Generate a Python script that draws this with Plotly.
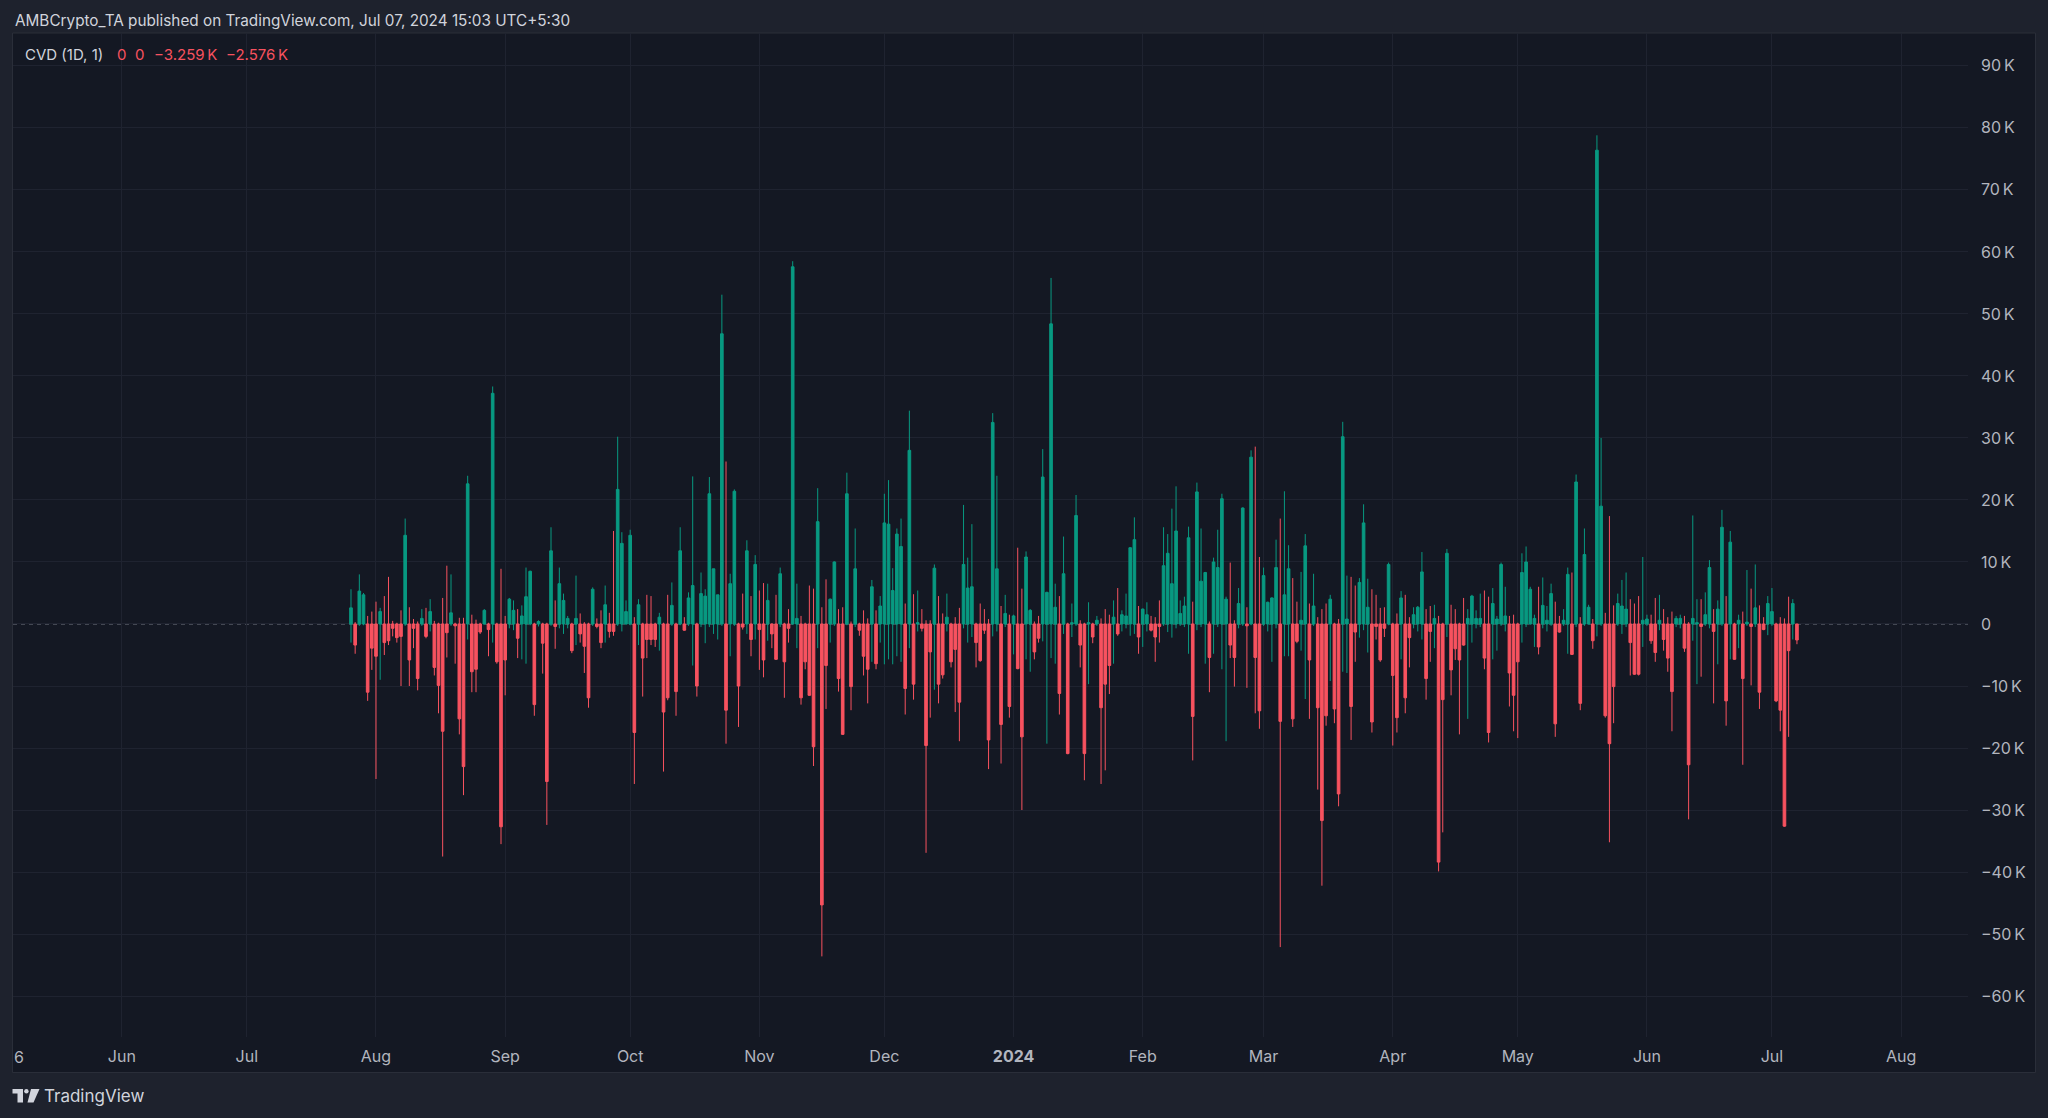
import plotly.graph_objects as go
import pandas as pd

# ---------------- data (values in thousands) ----------------
START_DATE = "2023-07-26"

close_k = [
    2.6, -3.4, 5.3, 4.7, -11.0, -3.9, -5.2, 2.0, -3.0, -2.7,
    -0.7, -2.2, -2.0, 14.3, -5.8, -0.7, -8.8, 0.9, -2.0, 2.0,
    -7.0, -9.9, -17.3, -1.4, 1.8, -0.3, -15.3, -23.0, 22.6, -7.7,
    -7.3, -1.3, 2.2, -0.9, 37.2, -6.1, -32.7, -5.8, 4.0, 2.2,
    -2.3, 1.3, 4.4, 8.5, -13.0, 0.4, -3.1, -25.4, 11.8, -0.4,
    6.5, 3.8, 0.9, -4.3, 0.9, -1.6, -3.6, -11.9, 5.6, -0.4,
    -3.0, 3.1, -1.2, -1.2, 21.7, 13.0, 2.0, 14.3, -17.5, 3.1,
    -5.5, -2.5, -2.5, -2.5, 1.1, -14.2, -11.9, 3.0, -10.9, 11.8,
    -1.0, 4.2, 6.2, -10.0, 4.9, 4.5, 21.0, 8.9, 4.7, 46.8,
    -13.9, 6.5, 21.4, -10.0, -0.5, 11.8, -2.5, 9.6, -0.9, -5.8,
    3.8, -1.6, -5.7, 8.1, -6.1, -0.7, 57.6, 0.9, -11.9, -6.1,
    -11.5, -19.8, 16.5, -45.3, -6.7, 4.0, 10.0, -8.8, -17.8, 21.0,
    -10.1, 8.9, -1.0, -5.2, -7.3, 6.0, -6.4, 2.9, 16.3, 16.1,
    5.4, 14.5, 12.5, -10.4, 28.0, -9.7, 0.2, -0.7, -19.6, -4.5,
    9.0, -9.7, -8.2, 1.1, -6.1, -4.1, -12.6, 9.6, 5.8, 6.0,
    -3.0, -5.9, -1.0, -18.7, 32.5, 8.9, -16.2, 1.7, -13.3, 1.3,
    -7.2, -18.2, 10.8, 2.2, -4.5, -2.3, 23.7, 5.1, 48.4, 2.7,
    -11.2, 8.1, -20.9, 0.2, 17.5, -3.4, -20.9, 0.2, -2.1, 0.6,
    -13.5, -9.7, -6.7, 1.1, -1.6, 1.5, 1.3, 12.3, 13.6, -2.1,
    2.4, 1.5, -1.0, -2.1, -0.4, 9.4, 11.4, 6.5, 15.0, 1.7,
    2.9, 13.9, -14.9, 21.3, 6.9, 8.3, -5.4, 10.0, 9.1, 20.2,
    4.0, -3.4, -5.4, 3.3, 18.7, -0.3, 26.9, -5.4, -14.0, 7.8,
    3.5, 4.2, 9.1, -15.7, 4.7, 8.9, -15.3, -2.8, 0.6, 12.6,
    -5.8, 2.9, -13.5, -31.7, -14.8, 4.0, -13.7, -27.4, 30.2, 0.8,
    -13.3, -1.3, 6.7, 16.3, 2.7, -15.8, -0.4, -5.8, -0.7, 9.6,
    -8.3, -15.1, 4.2, -11.9, -2.2, 1.5, 2.7, 8.4, -8.8, -1.2,
    0.9, -38.4, -12.2, 11.4, -7.4, -4.0, -5.8, -3.4, 0.9, 4.5,
    0.9, 0.9, -5.5, -17.5, 3.3, 0.8, 9.6, 1.3, -7.9, -11.5,
    -6.1, 8.3, 10.0, 5.6, 0.9, -3.7, 3.0, 0.6, 4.9, -16.1,
    -1.3, 0.6, 8.0, -4.9, 22.9, -12.8, 11.2, 2.7, -2.7, 76.4,
    19.0, -14.8, -19.3, -10.1, 3.3, 2.9, 2.4, -3.0, -8.1, -8.1,
    0.6, 0.8, -2.7, -4.6, 0.6, -2.5, -5.5, -10.9, 0.9, 0.9,
    -3.9, -22.7, 0.9, 0.2, -0.4, 1.5, 9.1, -1.2, 2.4, 15.6,
    -12.4, 13.2, -5.7, 0.6, -8.8, 0.3, -0.4, 2.6, -11.0, -0.9,
    3.3, 2.0, -12.4, -13.9, -32.6, -4.3, 3.3, -2.576,
]

high_k = [
    5.6, 0.3, 8.0, 5.0, 1.3, 2.0, 3.6, 2.6, 4.5, 7.6,
    0.5, 0.2, 2.2, 17.0, 2.7, 0.8, 0.4, 2.4, 2.6, 4.0,
    0.5, 0.2, 4.2, 9.4, 8.0, 0.2, 1.0, 1.0, 23.9, 1.5,
    0.7, 0.2, 2.4, 0.2, 38.3, 0.2, 8.9, 1.3, 4.2, 3.8,
    2.4, 3.0, 9.1, 8.6, 0.2, 0.6, 0.2, 0.2, 15.6, 3.8,
    9.1, 4.9, 1.3, 0.2, 7.8, 1.7, 0.3, 0.2, 5.9, 0.9,
    2.2, 6.2, 1.8, 15.0, 30.2, 14.8, 3.8, 15.2, 1.1, 4.0,
    0.2, 4.7, 4.5, 0.2, 1.8, 0.2, 4.7, 6.7, 0.2, 15.6,
    1.1, 5.1, 23.8, 0.2, 8.3, 5.6, 23.7, 8.9, 4.7, 53.1,
    26.2, 8.1, 21.7, 0.2, 4.9, 13.5, 4.5, 11.1, 5.4, 6.6,
    6.5, 0.1, 4.7, 9.1, 0.2, 2.4, 58.5, 6.5, 1.3, 0.2,
    6.2, 5.7, 21.9, 2.7, 7.2, 4.1, 10.1, 2.4, 2.7, 24.4,
    0.4, 15.4, 0.2, 2.2, 0.9, 7.1, 2.2, 4.5, 21.0, 23.2,
    9.0, 15.4, 17.0, 3.3, 34.4, 4.8, 5.4, 2.4, 0.6, 0.6,
    9.6, 4.5, 1.7, 4.9, 0.2, 1.1, 2.6, 19.2, 10.7, 16.1,
    0.2, 3.3, 2.4, 0.8, 34.0, 23.9, 2.9, 4.7, 1.5, 1.5,
    12.3, 5.7, 11.7, 2.4, 0.4, 1.3, 28.2, 5.2, 55.8, 6.5,
    4.5, 14.1, 0.2, 3.3, 20.8, 0.6, 0.2, 3.5, 0.2, 1.3,
    0.9, 2.4, 1.5, 3.8, 5.8, 2.2, 4.9, 12.4, 17.2, 2.9,
    2.5, 3.5, 1.3, 1.1, 3.8, 15.6, 14.5, 18.6, 22.2, 3.8,
    4.4, 15.7, 3.6, 22.8, 15.4, 8.4, 0.4, 10.7, 15.2, 21.0,
    4.4, 9.9, 0.6, 5.8, 18.8, 2.7, 28.0, 28.6, 10.8, 9.1,
    3.6, 4.3, 13.6, 17.0, 21.4, 12.7, 7.4, 3.6, 8.4, 14.5,
    3.3, 8.1, 1.1, 2.4, 3.3, 4.7, 0.2, 0.8, 32.6, 7.8,
    7.6, 6.2, 7.4, 19.3, 7.3, 5.6, 4.7, 2.6, 2.7, 9.9,
    0.2, 1.7, 5.3, 4.7, 1.1, 2.7, 2.9, 11.6, 2.4, 2.9,
    3.1, 1.3, 0.2, 12.1, 3.1, 2.4, 0.2, 4.2, 2.4, 4.7,
    2.2, 4.9, 5.4, 4.4, 5.8, 1.3, 9.9, 6.0, 1.3, 1.5,
    0.2, 11.4, 12.5, 6.0, 1.5, 6.0, 7.5, 2.9, 6.5, 3.6,
    1.3, 2.4, 9.1, 8.3, 24.1, 1.1, 15.4, 3.1, 0.8, 78.8,
    30.0, 1.8, 17.4, 3.0, 4.9, 7.1, 8.3, 4.0, 3.3, 4.5,
    10.8, 1.5, 1.5, 4.2, 4.7, 2.4, 1.1, 2.0, 1.3, 1.5,
    1.3, 0.3, 17.5, 4.0, 4.0, 5.1, 10.3, 2.4, 3.8, 18.4,
    4.5, 15.0, 0.2, 1.5, 2.0, 8.7, 5.7, 9.6, 3.0, 1.1,
    4.5, 5.8, 0.2, 1.1, 0.9, 4.4, 4.0, 0.0,
]

low_k = [
    -3.0, -4.8, -0.3, -0.2, -12.4, -7.4, -25.0, -9.0, -5.0, -3.4,
    -2.0, -3.0, -10.0, -0.3, -10.0, -3.9, -10.7, -0.3, -2.3, -1.2,
    -8.3, -14.4, -37.5, -5.4, -0.3, -6.4, -17.8, -27.6, -2.5, -11.0,
    -11.0, -1.6, -0.1, -5.2, -3.0, -6.4, -35.5, -11.5, -0.7, -1.0,
    -5.5, -5.7, -6.4, -0.2, -14.8, -0.4, -8.0, -32.4, -0.3, -4.0,
    -0.7, -1.6, -0.7, -4.7, -3.4, -3.0, -7.9, -13.5, -0.3, -0.7,
    -3.9, -3.0, -2.2, -1.9, -0.3, -1.2, -0.1, -0.2, -25.8, -3.4,
    -11.7, -5.5, -3.4, -3.7, -4.3, -23.8, -12.3, -0.3, -14.8, -0.2,
    -1.1, -0.3, -6.7, -11.7, -0.5, -3.1, -0.5, -1.6, -2.5, -0.3,
    -19.3, -5.2, -0.3, -16.6, -0.9, -1.6, -5.2, -2.5, -7.4, -8.6,
    -2.7, -3.9, -5.8, -0.5, -11.9, -3.0, -0.1, -3.9, -13.0, -7.3,
    -11.6, -22.9, -3.9, -53.6, -13.7, -3.0, -0.3, -10.9, -17.9, -0.2,
    -13.9, -0.5, -1.9, -8.3, -12.8, -6.1, -7.3, -3.0, -6.5, -5.7,
    -6.5, -5.2, -6.1, -14.6, -3.9, -12.2, -1.2, -1.2, -36.9, -15.1,
    -10.6, -12.8, -8.8, -1.2, -7.0, -14.2, -18.9, -0.7, -3.0, -2.1,
    -7.0, -6.1, -1.6, -23.4, -2.0, -1.2, -22.5, -0.5, -15.1, -4.9,
    -7.3, -30.0, -5.7, -7.7, -5.7, -3.0, -2.8, -19.3, -5.5, -6.4,
    -14.6, -1.6, -21.0, -2.1, -0.3, -7.0, -25.2, -9.7, -3.1, -0.3,
    -25.8, -23.6, -11.3, -6.4, -1.9, -1.2, -0.7, -1.9, -1.6, -4.8,
    -3.7, -1.2, -1.2, -6.1, -3.0, -0.3, -1.3, -2.2, -0.7, -0.3,
    -0.5, -4.8, -22.0, -1.0, -0.5, -6.4, -11.0, -4.8, -0.5, -7.3,
    -18.9, -5.5, -10.1, -0.7, -0.3, -10.3, -0.2, -14.4, -16.9, -0.3,
    -1.2, -6.1, -0.7, -52.1, -5.2, -5.2, -16.6, -3.1, -4.3, -12.1,
    -15.3, -0.3, -26.7, -42.2, -16.4, -9.2, -16.0, -29.4, -7.7, -7.9,
    -18.7, -6.1, -2.2, -1.0, -4.6, -17.5, -2.5, -6.1, -2.1, -0.2,
    -19.6, -17.5, -5.7, -14.4, -7.0, -0.7, -1.2, -2.5, -12.2, -6.1,
    -3.9, -39.9, -33.6, -2.1, -11.5, -5.8, -17.8, -3.5, -15.3, -3.0,
    -0.7, -0.5, -7.3, -19.1, -5.7, -4.3, -0.3, -1.2, -13.3, -17.3,
    -18.4, -3.0, -0.5, -0.1, -3.7, -4.9, -0.7, -1.2, -0.3, -18.2,
    -1.4, -0.3, -4.8, -5.0, -0.5, -13.9, -0.3, -0.1, -4.0, -2.0,
    -0.3, -15.1, -35.2, -16.0, -0.3, -1.6, -0.5, -8.3, -8.2, -8.3,
    -3.7, -0.3, -3.2, -6.1, -1.0, -4.3, -7.7, -17.3, -0.5, -0.7,
    -4.5, -31.5, -2.7, -9.7, -8.5, -0.3, -0.7, -12.8, -6.5, -0.3,
    -16.4, -5.7, -5.8, -3.9, -22.7, -0.3, -9.9, -0.5, -13.7, -1.0,
    -1.8, -0.3, -12.6, -17.3, -32.7, -18.2, -2.5, -3.259,
]

month_ticks = ["2023-06-01", "2023-07-01", "2023-08-01", "2023-09-01", "2023-10-01",
               "2023-11-01", "2023-12-01", "2024-01-01", "2024-02-01", "2024-03-01",
               "2024-04-01", "2024-05-01", "2024-06-01", "2024-07-01", "2024-08-01"]
month_labels = ["Jun", "Jul", "Aug", "Sep", "Oct", "Nov", "Dec", "<b>2024</b>",
                "Feb", "Mar", "Apr", "May", "Jun", "Jul", "Aug"]
price_ticks = [-60000, -50000, -40000, -30000, -20000, -10000, 0,
               10000, 20000, 30000, 40000, 50000, 60000, 70000, 80000, 90000]
legend_values = ["0", "0", "\u22123.259\u2009K", "\u22122.576\u2009K"]

# ---------------- styling ----------------
UP = "#089981"
DN = "#F7525F"
FRAME = "#1e222d"
PANE = "#141823"
GRID = "#1f2330"
TICK = "#b2b5be"
TEXT = "#d1d4dc"
FONT = "Inter"

W, H = 2048, 1118
L, R, T, B = 13, 2048 - 1968, 33, 1118 - 1037
PW, PH = W - L - R, H - T - B


def px_x(px):
    return (px - L) / PW


def px_y(py):
    return (H - B - py) / PH


def price_label(v):
    if v == 0:
        return "0"
    s = f"{abs(v) // 1000}\u2009K"
    return ("\u2212" + s) if v < 0 else s


n = len(close_k)
dates = pd.date_range(START_DATE, periods=n, freq="D")
open_v = [0.0] * n
close_v = [v * 1000 for v in close_k]
high_v = [v * 1000 for v in high_k]
low_v = [v * 1000 for v in low_k]

fig = go.Figure()
fig.add_trace(go.Candlestick(
    x=dates, open=open_v, high=high_v, low=low_v, close=close_v,
    increasing=dict(line=dict(color=UP, width=1), fillcolor=UP),
    decreasing=dict(line=dict(color=DN, width=1), fillcolor=DN),
    whiskerwidth=0, showlegend=False, hoverinfo="skip",
))


def path(pts):
    return "M " + " L ".join(f"{px_x(x):.6f},{px_y(y):.6f}" for x, y in pts) + " Z"


shapes = [
    # chart pane background + border
    dict(type="rect", xref="paper", yref="paper", layer="below",
         x0=px_x(12.5), x1=px_x(2035.5), y0=px_y(1072.5), y1=px_y(33),
         fillcolor=PANE, line=dict(color="#2a2e39", width=1)),
    # dashed zero baseline
    dict(type="line", xref="paper", yref="y", layer="below",
         x0=0, x1=1, y0=0, y1=0, line=dict(color="#787b86", width=1, dash="4px,4px")),
    # TradingView logo
    dict(type="path", xref="paper", yref="paper", fillcolor=TEXT, line=dict(width=0),
         path=path([(12.5, 1089), (23, 1089), (23, 1102.5), (17.5, 1102.5), (17.5, 1093.5), (12.5, 1093.5)])),
    dict(type="circle", xref="paper", yref="paper", fillcolor=TEXT, line=dict(width=0),
         x0=px_x(24.2), x1=px_x(28.6), y0=px_y(1093.4), y1=px_y(1089)),
    dict(type="path", xref="paper", yref="paper", fillcolor=TEXT, line=dict(width=0),
         path=path([(31, 1089), (39.5, 1089), (33.5, 1102.5), (27.5, 1102.5)])),
]

annotations = [
    dict(text="AMBCrypto_TA published on TradingView.com, Jul 07, 2024 15:03 UTC+5:30",
         xref="paper", yref="paper", x=px_x(13), y=px_y(20.5), xanchor="left", yanchor="middle",
         showarrow=False, font=dict(family=FONT, size=15.3, color=TEXT)),
    dict(text="CVD (1D, 1)", xref="paper", yref="paper", x=px_x(23), y=px_y(55),
         xanchor="left", yanchor="middle", showarrow=False,
         font=dict(family=FONT, size=15, color=TEXT)),
    dict(text="TradingView", xref="paper", yref="paper", x=px_x(42), y=px_y(1096),
         xanchor="left", yanchor="middle", showarrow=False,
         font=dict(family=FONT, size=17, color=TEXT)),
    dict(text="6", xref="paper", yref="paper", x=px_x(12), y=px_y(1057),
         xanchor="left", yanchor="middle", showarrow=False,
         font=dict(family=FONT, size=16, color=TICK)),
]
for xpos, txt in zip([115, 133, 152, 224], legend_values):
    annotations.append(dict(text=txt, xref="paper", yref="paper", x=px_x(xpos), y=px_y(55),
                            xanchor="left", yanchor="middle", showarrow=False,
                            font=dict(family=FONT, size=15, color=DN)))

fig.update_layout(
    width=W, height=H,
    margin=dict(l=L, r=R, t=T, b=B, pad=0),
    paper_bgcolor=FRAME, plot_bgcolor=PANE,
    showlegend=False, hovermode=False,
    boxgap=0.1,
    font=dict(family=FONT, color=TICK),
    shapes=shapes, annotations=annotations,
    xaxis=dict(type="date", range=["2023-05-05 21:20", "2024-08-17 01:10"],
               rangeslider=dict(visible=False),
               tickmode="array", tickvals=month_ticks, ticktext=month_labels,
               showgrid=True, gridcolor=GRID, gridwidth=1, zeroline=False, showline=False,
               ticks="", tickfont=dict(family=FONT, size=16, color=TICK), ticklabelstandoff=8),
    yaxis=dict(side="right", range=[-66600, 95300],
               tickmode="array", tickvals=price_ticks, ticktext=[price_label(v) for v in price_ticks],
               showgrid=True, gridcolor=GRID, gridwidth=1, zeroline=False, showline=False,
               ticks="", tickfont=dict(family=FONT, size=16, color=TICK), ticklabelstandoff=12),
)

fig.write_html("out.html", config={"displayModeBar": False},
               post_script="document.body.style.margin='0';document.body.style.overflow='hidden';")
